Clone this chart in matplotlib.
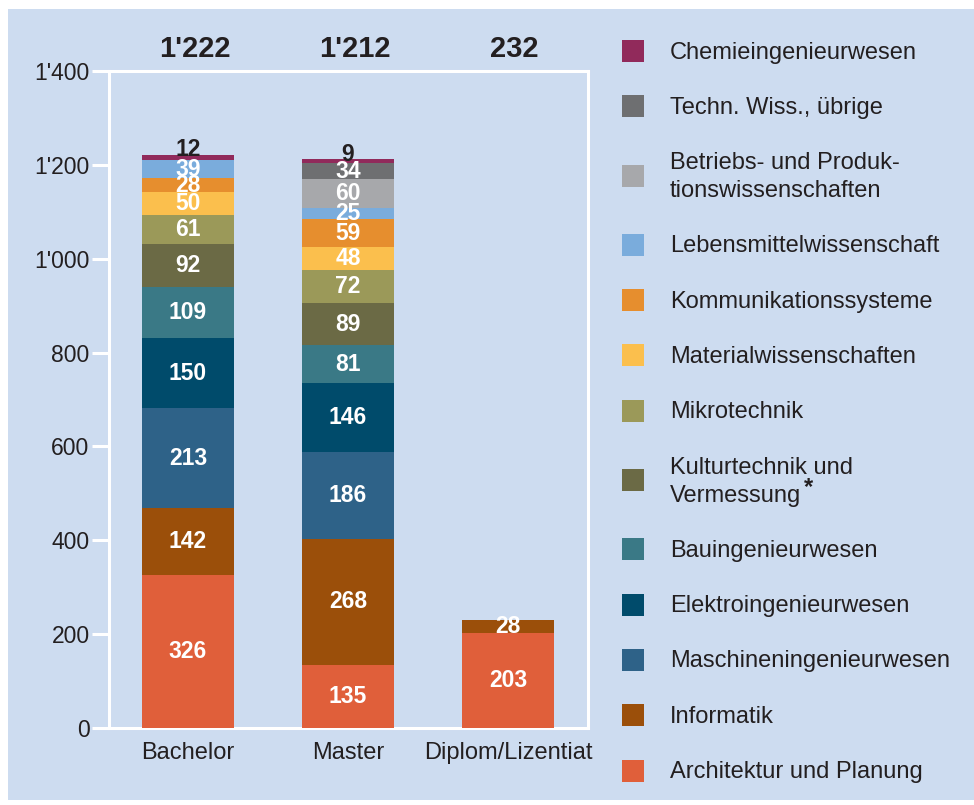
import matplotlib
matplotlib.use("Agg")
import matplotlib.pyplot as plt
from matplotlib import font_manager
import numpy as np
from matplotlib.patches import Rectangle

# avoid matching the Narrow variant of Liberation Sans
font_manager.fontManager.ttflist = [f for f in font_manager.fontManager.ttflist
                                    if "Narrow" not in f.fname]
try:
    font_manager._findfont_cached.cache_clear()
except Exception:
    pass
plt.rcParams['font.family'] = ['Liberation Sans', 'DejaVu Sans']

categories = ["Bachelor", "Master", "Diplom/Lizentiat"]
totals = ["1'222", "1'212", "232"]

# series, bottom to top
series_names = [
    "Architektur und Planung",
    "Informatik",
    "Maschineningenieurwesen",
    "Elektroingenieurwesen",
    "Bauingenieurwesen",
    "Kulturtechnik und\nVermessung",
    "Mikrotechnik",
    "Materialwissenschaften",
    "Kommunikationssysteme",
    "Lebensmittelwissenschaft",
    "Betriebs- und Produk-\ntionswissenschaften",
    "Techn. Wiss., übrige",
    "Chemieingenieurwesen",
]
architektur = [326, 135, 203]
informatik = [142, 268, 28]
maschinen = [213, 186, 0]
elektro = [150, 146, 0]
bau = [109, 81, 0]
kultur = [92, 89, 0]
mikro = [61, 72, 0]
material = [50, 48, 0]
kommunikation = [28, 59, 0]
lebensmittel = [39, 25, 0]
betriebs = [0, 60, 0]
techn = [0, 34, 0]
chemie = [12, 9, 0]

values = [architektur, informatik, maschinen, elektro, bau, kultur, mikro,
          material, kommunikation, lebensmittel, betriebs, techn, chemie]
colors = ["#E05F3A", "#9B4F0A", "#2E6288", "#004B6B", "#3A7986", "#6B6A45",
          "#9B9959", "#FBBF4D", "#E68E2E", "#7AACDC", "#A7A8AB", "#6E6F71",
          "#912A5B"]

y_ticks = [0, 200, 400, 600, 800, 1000, 1200, 1400]
y_ticklabels = ["0", "200", "400", "600", "800", "1'000", "1'200", "1'400"]

W, H = 974, 805
fig = plt.figure(figsize=(W / 100, H / 100), dpi=100)
fig.patch.set_facecolor("white")
bg = "#CDDCF0"
fig.patches.append(Rectangle((8 / W, 1 - 800 / H), 1 - 8 / W, (800 - 9) / H,
                             transform=fig.transFigure, facecolor=bg,
                             edgecolor="none", zorder=-10))

ax = fig.add_axes([109 / W, 1 - 728 / H, (588 - 109) / W, (728 - 71) / H])
ax.set_facecolor(bg)
x = np.arange(len(categories))
bottom = np.zeros(len(categories))
textc = "#231F20"
for vals, col in zip(values, colors):
    v = np.array(vals, dtype=float)
    ax.bar(x, v, bottom=bottom, width=0.57, color=col, edgecolor="none", zorder=2)
    bottom = bottom + v

# segment labels
bottom = np.zeros(len(categories))
for si, (vals, col) in enumerate(zip(values, colors)):
    for i, v in enumerate(vals):
        if v <= 0:
            continue
        if si == len(values) - 1:
            ax.text(x[i], bottom[i] + v - 3, str(v), ha="center", va="baseline",
                    color=textc, fontsize=16.5, fontweight="bold", zorder=3)
        else:
            ax.text(x[i], bottom[i] + v / 2, str(v), ha="center", va="center",
                    color="white", fontsize=16.5, fontweight="bold", zorder=3)
    bottom = bottom + np.array(vals)

for i, t in enumerate(totals):
    ax.text(x[i] + 0.04, 1.012, t, transform=ax.get_xaxis_transform(), ha="center",
            va="bottom", fontsize=21, fontweight="bold", color=textc)

ax.set_xlim(-0.494, 2.5)
ax.set_ylim(0, 1400)
ax.set_yticks(y_ticks)
ax.set_yticklabels(y_ticklabels)
ax.set_xticks(x)
ax.set_xticklabels(categories)
ax.tick_params(axis="y", colors="white", length=12, width=2.2, labelsize=16.5,
               labelcolor=textc, pad=2)
ax.tick_params(axis="x", length=0, labelsize=17, labelcolor=textc, pad=10)
for s in ax.spines.values():
    s.set_color("white")
    s.set_linewidth(2.2)
    s.set_zorder(1)

# legend (manual), top to bottom
leg_x_sq = 622 / W
leg_x_txt = 670 / W
sq = 22
y = 51.0
order = list(range(len(series_names)))[::-1]
prev_extra = 0
renderer = fig.canvas.get_renderer()
for k, si in enumerate(order):
    name = series_names[si]
    extra = name.count("\n")
    if k > 0:
        y += 55.3 + 14 * (prev_extra + extra)
    fig.patches.append(Rectangle((leg_x_sq, 1 - (y + sq / 2) / H), sq / W, sq / H,
                                 transform=fig.transFigure, facecolor=colors[si],
                                 edgecolor="none"))
    t = fig.text(leg_x_txt, 1 - (y + 1.5) / H, name, ha="left", va="center",
                 fontsize=17, color=textc, linespacing=1.35)
    if name.startswith("Kulturtechnik"):
        tmp = fig.text(0, 0, "Vermessung", fontsize=17)
        wpx = tmp.get_window_extent(renderer).width
        tmp.remove()
        fig.text(leg_x_txt + (wpx + 3) / W, 1 - (y + 7) / H, "*", ha="left",
                 va="center", fontsize=17, fontweight="bold", color=textc)
    prev_extra = extra

fig.savefig("out.png", dpi=100, facecolor=fig.get_facecolor())
